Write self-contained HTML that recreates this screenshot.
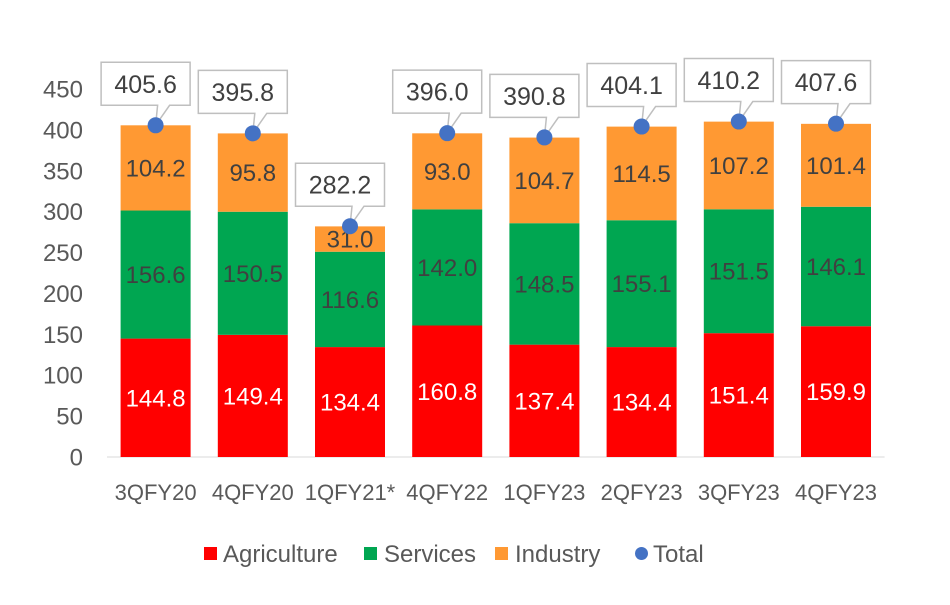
<!DOCTYPE html>
<html><head><meta charset="utf-8"><style>
html,body{margin:0;padding:0;background:#fff;}
svg{display:block;font-family:"Liberation Sans",Arial,sans-serif;}
</style></head><body>
<svg id="chart" width="950" height="605" viewBox="0 0 950 605"></svg>
<script>
const categories=["3QFY20","4QFY20","1QFY21*","4QFY22","1QFY23","2QFY23","3QFY23","4QFY23"];
const agriculture=[144.8,149.4,134.4,160.8,137.4,134.4,151.4,159.9];
const services=[156.6,150.5,116.6,142.0,148.5,155.1,151.5,146.1];
const industry=[104.2,95.8,31.0,93.0,104.7,114.5,107.2,101.4];
const totals=[405.6,395.8,282.2,396.0,390.8,404.1,410.2,407.6];
const yTicks=[0,50,100,150,200,250,300,350,400,450];

const NS="http://www.w3.org/2000/svg";
const svg=document.getElementById('chart');
function mk(tag,attrs,parent){const e=document.createElementNS(NS,tag);for(const k in attrs)e.setAttribute(k,attrs[k]);(parent||svg).appendChild(e);return e;}
const y0=457, pxPer=368/450;
function y(v){return y0-v*pxPer;}
const plotL=107, step=97.2, barW=70;
function xc(i){return plotL+step*(i+0.5);}

const ax=mk('line',{x1:plotL,x2:plotL+step*categories.length,y1:y0,y2:y0,stroke:'#d9d9d9','stroke-width':1});



yTicks.forEach(t=>{
  const tx=mk('text',{x:83,y:y(t)+8.5,'text-anchor':'end','font-size':24,fill:'#595959'});
  tx.textContent=t;
  
  
});

const series=[[agriculture,'#ff0000','#ffffff','agriculture'],[services,'#00a651','#404040','services'],[industry,'#ff9933','#404040','industry']];
categories.forEach((c,i)=>{
  let base=0;
  series.forEach(([arr,col,tc,nm])=>{
    const v=arr[i];
    const r=mk('rect',{x:xc(i)-barW/2,y:y(base+v),width:barW,height:v*pxPer,fill:col});
    
    
    const lt=mk('text',{x:xc(i),y:y(base+v/2)+8.5,'text-anchor':'middle','font-size':24,fill:tc});
    lt.textContent=v.toFixed(1);
    
    
    base+=v;
  });
  const xl=mk('text',{x:xc(i),y:500,'text-anchor':'middle','font-size':22,fill:'#595959'});
  xl.textContent=c;
  
  
});

totals.forEach((t,i)=>{
  const cx=xc(i), cy=y(t);
  const bw=89,bh=43, bx=cx-10-bw/2, by=cy-20-bh;
  const g=mk('g',{});
  
  
  const d='M'+bx+','+by+' h'+bw+' v'+bh+' H'+(cx+14)+' L'+cx+','+cy+' L'+(cx+2)+','+(by+bh)+' H'+bx+' Z';
  mk('path',{d:d,fill:'#fff',stroke:'#bfbfbf','stroke-width':1.5},g);
  const tt=mk('text',{x:bx+bw/2,y:by+bh/2+9,'text-anchor':'middle','font-size':25,fill:'#404040'},g);
  tt.textContent=t.toFixed(1);
  const dot=mk('circle',{cx:cx,cy:cy,r:8,fill:'#4472c4'});
  
  
});

const leg=[['rect','#ff0000','Agriculture',204,223],['rect','#00a651','Services',364,384],['rect','#ff9933','Industry',495,515],['circle','#4472c4','Total',635,653]];
leg.forEach(([s,col,lab,sx,tx])=>{
  const g=mk('g',{});
  
  
  if(s==='rect') mk('rect',{x:sx,y:547,width:13,height:13,fill:col},g);
  else mk('circle',{cx:sx+6.5,cy:553.5,r:6.5,fill:col},g);
  const t=mk('text',{x:tx,y:562,'font-size':24,fill:'#595959'},g);
  t.textContent=lab;
});
</script>
</body></html>
